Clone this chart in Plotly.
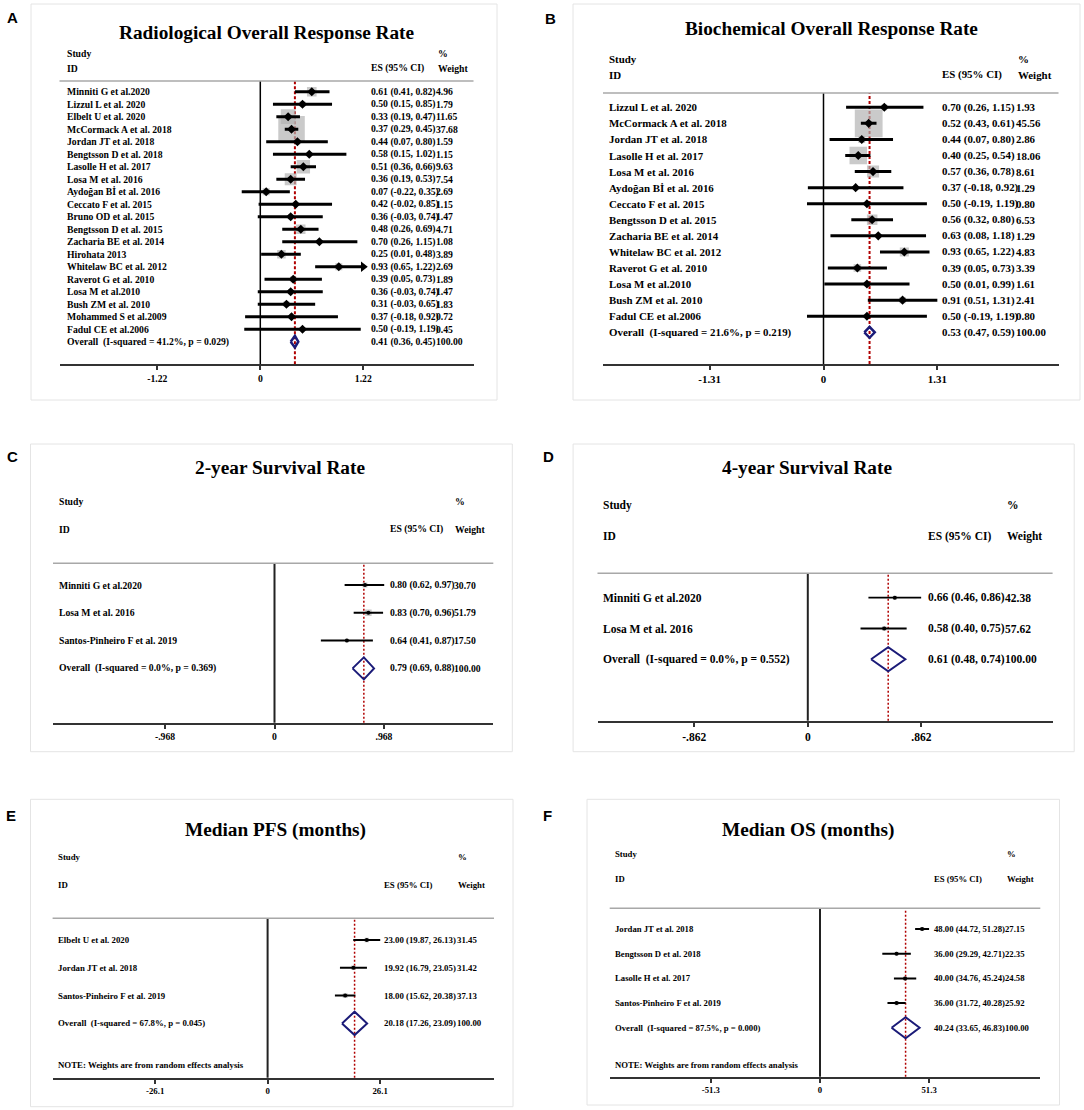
import math
import plotly.graph_objects as go

W, H = 1084, 1110

# ---------------- data ----------------
a_studies = ["Minniti G et al.2020", "Lizzul L et al. 2020", "Elbelt U et al. 2020",
             "McCormack A et al. 2018", "Jordan JT et al. 2018", "Bengtsson D et al. 2018",
             "Lasolle H et al. 2017", "Losa M et al. 2016", "Aydoğan Bİ et al. 2016",
             "Ceccato F et al. 2015", "Bruno OD et al. 2015", "Bengtsson D et al. 2015",
             "Zacharia BE et al. 2014", "Hirohata 2013", "Whitelaw BC et al. 2012",
             "Raverot G et al. 2010", "Losa M et al.2010", "Bush ZM et al. 2010",
             "Mohammed S et al.2009", "Fadul CE et al.2006"]
a_es = [0.61, 0.50, 0.33, 0.37, 0.44, 0.58, 0.51, 0.36, 0.07, 0.42,
        0.36, 0.48, 0.70, 0.25, 0.93, 0.39, 0.36, 0.31, 0.37, 0.50]
a_lo = [0.41, 0.15, 0.19, 0.29, 0.07, 0.15, 0.36, 0.19, -0.22, -0.02,
        -0.03, 0.26, 0.26, 0.01, 0.65, 0.05, -0.03, -0.03, -0.18, -0.19]
a_hi = [0.82, 0.85, 0.47, 0.45, 0.80, 1.02, 0.66, 0.53, 0.35, 0.85,
        0.74, 0.69, 1.15, 0.48, 1.22, 0.73, 0.74, 0.65, 0.92, 1.19]
a_wt = [4.96, 1.79, 11.65, 37.68, 1.59, 1.15, 9.63, 7.54, 2.69, 1.15,
        1.47, 4.71, 1.08, 3.89, 2.69, 1.89, 1.47, 1.83, 0.72, 0.45]
a_overall = [0.41, 0.36, 0.45]
a_i2, a_p = 41.2, 0.029
a_tickvals = [-1.22, 0, 1.22]
a_ticktext = ["-1.22", "0", "1.22"]
a_arrows = ["Whitelaw BC et al. 2012"]

b_studies = ["Lizzul L et al. 2020", "McCormack A et al. 2018", "Jordan JT et al. 2018",
             "Lasolle H et al. 2017", "Losa M et al. 2016", "Aydoğan Bİ et al. 2016",
             "Ceccato F et al. 2015", "Bengtsson D et al. 2015", "Zacharia BE et al. 2014",
             "Whitelaw BC et al. 2012", "Raverot G et al. 2010", "Losa M et al.2010",
             "Bush ZM et al. 2010", "Fadul CE et al.2006"]
b_es = [0.70, 0.52, 0.44, 0.40, 0.57, 0.37, 0.50, 0.56, 0.63, 0.93, 0.39, 0.50, 0.91, 0.50]
b_lo = [0.26, 0.43, 0.07, 0.25, 0.36, -0.18, -0.19, 0.32, 0.08, 0.65, 0.05, 0.01, 0.51, -0.19]
b_hi = [1.15, 0.61, 0.80, 0.54, 0.78, 0.92, 1.19, 0.80, 1.18, 1.22, 0.73, 0.99, 1.31, 1.19]
b_wt = [1.93, 45.56, 2.86, 18.06, 8.61, 1.29, 0.80, 6.53, 1.29, 4.83, 3.39, 1.61, 2.41, 0.80]
b_overall = [0.53, 0.47, 0.59]
b_i2, b_p = 21.6, 0.219
b_tickvals = [-1.31, 0, 1.31]
b_ticktext = ["-1.31", "0", "1.31"]

c_studies = ["Minniti G et al.2020", "Losa M et al. 2016", "Santos-Pinheiro F et al. 2019"]
c_es = [0.80, 0.83, 0.64]
c_lo = [0.62, 0.70, 0.41]
c_hi = [0.97, 0.96, 0.87]
c_wt = [30.70, 51.79, 17.50]
c_overall = [0.79, 0.69, 0.88]
c_i2, c_p = 0.0, 0.369
c_tickvals = [-0.968, 0, 0.968]
c_ticktext = ["-.968", "0", ".968"]

d_studies = ["Minniti G et al.2020", "Losa M et al. 2016"]
d_es = [0.66, 0.58]
d_lo = [0.46, 0.40]
d_hi = [0.86, 0.75]
d_wt = [42.38, 57.62]
d_overall = [0.61, 0.48, 0.74]
d_i2, d_p = 0.0, 0.552
d_tickvals = [-0.862, 0, 0.862]
d_ticktext = ["-.862", "0", ".862"]

e_studies = ["Elbelt U et al. 2020", "Jordan JT et al. 2018", "Santos-Pinheiro F et al. 2019"]
e_es = [23.00, 19.92, 18.00]
e_lo = [19.87, 16.79, 15.62]
e_hi = [26.13, 23.05, 20.38]
e_wt = [31.45, 31.42, 37.13]
e_overall = [20.18, 17.26, 23.09]
e_i2, e_p = 67.8, 0.045
e_tickvals = [-26.1, 0, 26.1]
e_ticktext = ["-26.1", "0", "26.1"]

f_studies = ["Jordan JT et al. 2018", "Bengtsson D et al. 2018", "Lasolle H et al. 2017",
             "Santos-Pinheiro F et al. 2019"]
f_es = [48.00, 36.00, 40.00, 36.00]
f_lo = [44.72, 29.29, 34.76, 31.72]
f_hi = [51.28, 42.71, 45.24, 40.28]
f_wt = [27.15, 22.35, 24.58, 25.92]
f_overall = [40.24, 33.65, 46.83]
f_i2, f_p = 87.5, 0.000
f_tickvals = [-51.3, 0, 51.3]
f_ticktext = ["-51.3", "0", "51.3"]

titles = ["Radiological Overall Response Rate", "Biochemical Overall Response Rate",
          "2-year Survival Rate", "4-year Survival Rate",
          "Median PFS (months)", "Median OS (months)"]
letters = ["A", "B", "C", "D", "E", "F"]
note_text = "NOTE: Weights are from random effects analysis"

# ---------------- layout geometry (pixels) ----------------
geo = [
    dict(border=(31, 4, 497, 400), letter=(12, 17.7), title=(267, 32), study_x=65.8,
         hdr=(54, 68), es_x=369.7, wt_x=435.4, pct_x=436.8, gray_y=81, axis_y=364.3,
         axis_x=(59.5, 473.5), zero=260.3, scale=84.4, row1=91.7, sp=12.5, font=9.7,
         ci_w=3, box_k=4.32, pt=("diamond", 7), dia_h=5.8, dia_w=2.5, zero_w=1.5,
         red_dash="3px,2px", red_w=2, note=False),
    dict(border=(573, 4, 1080, 400), letter=(550, 18), title=(831, 29), study_x=608,
         hdr=(59, 75), es_x=940.5, wt_x=1014.5, pct_x=1017, gray_y=93, axis_y=364,
         axis_x=(603, 1058.5), zero=823.5, scale=86.9, row1=107.3, sp=16.07, font=10.9,
         ci_w=3, box_k=4.12, pt=("diamond", 7), dia_h=5.5, dia_w=2.5, zero_w=1.5,
         red_dash="3px,2px", red_w=2, note=False),
    dict(border=(30.5, 444, 512.3, 751.7), letter=(12, 456), title=(280.4, 467.7), study_x=57.8,
         hdr=(501.7, 529.3), es_x=388.7, wt_x=453.4, pct_x=454, gray_y=563.3, axis_y=722.7,
         axis_x=(53, 493.3), zero=274.5, scale=113.1, row1=585, sp=27.8, font=9.7,
         ci_w=2, box_k=0.9, pt=("circle", 4), dia_h=11, dia_w=2, zero_w=2,
         red_dash="2px,2px", red_w=1.5, note=False),
    dict(border=(573.1, 444, 1074.2, 751.7), letter=(548, 456), title=(806.7, 467.7), study_x=602,
         hdr=(505, 536), es_x=927, wt_x=1004.4, pct_x=1005.5, gray_y=573.3, axis_y=720.7,
         axis_x=(597.5, 1052.6), zero=807.8, scale=131.8, row1=597.7, sp=30.8, font=11.5,
         ci_w=1.8, box_k=0.6, pt=("circle", 4), dia_h=12, dia_w=2, zero_w=2,
         red_dash="2px,2px", red_w=1.5, note=False),
    dict(border=(30.5, 799.3, 513, 1106.7), letter=(11.4, 815), title=(275.2, 830), study_x=57.1,
         hdr=(857.3, 885), es_x=383.2, wt_x=456.2, pct_x=456.9, gray_y=918.3, axis_y=1077.7,
         axis_x=(52.6, 494), zero=267.6, scale=4.31, row1=940, sp=27.8, font=8.8,
         ci_w=2, box_k=0.8, pt=("circle", 4), dia_h=11.7, dia_w=2, zero_w=2,
         red_dash="2px,2px", red_w=1.5, note=True),
    dict(border=(587, 799.3, 1059.5, 1105), letter=(547, 815), title=(807.8, 830), study_x=613.9,
         hdr=(854.3, 879), es_x=933, wt_x=1004.4, pct_x=1005.5, gray_y=908.3, axis_y=1076.7,
         axis_x=(609.7, 1040.3), zero=820, scale=2.127, row1=929, sp=24.7, font=8.7,
         ci_w=2, box_k=0.8, pt=("circle", 4), dia_h=10.5, dia_w=2, zero_w=2,
         red_dash="2px,2px", red_w=1.5, note=True),
]

datasets = [
    (a_studies, a_es, a_lo, a_hi, a_wt, a_overall, a_i2, a_p, a_tickvals, a_ticktext),
    (b_studies, b_es, b_lo, b_hi, b_wt, b_overall, b_i2, b_p, b_tickvals, b_ticktext),
    (c_studies, c_es, c_lo, c_hi, c_wt, c_overall, c_i2, c_p, c_tickvals, c_ticktext),
    (d_studies, d_es, d_lo, d_hi, d_wt, d_overall, d_i2, d_p, d_tickvals, d_ticktext),
    (e_studies, e_es, e_lo, e_hi, e_wt, e_overall, e_i2, e_p, e_tickvals, e_ticktext),
    (f_studies, f_es, f_lo, f_hi, f_wt, f_overall, f_i2, f_p, f_tickvals, f_ticktext),
]

SERIF = "Liberation Serif, Times New Roman, serif"
SANS = "Liberation Sans, Arial, sans-serif"
NAVY = "#1b1b78"
RED = "#b00000"


def px(x):
    return x / W


def py(y):
    return 1 - y / H


fig = go.Figure()
annotations = []
shapes = []
layout_axes = {}

for i, (g, d) in enumerate(zip(geo, datasets), start=1):
    studies, es, lo, hi, wt, overall, i2, pval, tickvals, ticktext = d
    xn = "x" if i == 1 else f"x{i}"
    yn = "y" if i == 1 else f"y{i}"
    xk = "xaxis" if i == 1 else f"xaxis{i}"
    yk = "yaxis" if i == 1 else f"yaxis{i}"
    n = len(studies)
    rows = list(range(1, n + 1))
    r_over = n + 1

    r_top = 1 + (g["gray_y"] - g["row1"]) / g["sp"]
    r_bot = 1 + (g["axis_y"] - g["row1"]) / g["sp"]
    x0 = (g["axis_x"][0] - g["zero"]) / g["scale"]
    x1 = (g["axis_x"][1] - g["zero"]) / g["scale"]

    layout_axes[xk] = dict(
        domain=[px(g["axis_x"][0]), px(g["axis_x"][1])], range=[x0, x1],
        anchor=yn, showgrid=False, zeroline=False, showline=True,
        linecolor="#333333", linewidth=2, ticks="outside", ticklen=4, tickwidth=1.5,
        tickcolor="#333333", tickvals=tickvals, ticktext=ticktext,
        tickfont=dict(family=SERIF, size=g["font"], color="black", weight="bold"),
        fixedrange=True)
    layout_axes[yk] = dict(
        domain=[py(g["axis_y"]), py(g["gray_y"])], range=[r_bot, r_top],
        anchor=xn, visible=False, fixedrange=True)

    # weight boxes
    fig.add_trace(go.Scatter(
        x=es, y=rows, xaxis=xn, yaxis=yn, mode="markers", hoverinfo="skip",
        marker=dict(symbol="square", size=[g["box_k"] * math.sqrt(w) for w in wt],
                    color="#b4b4b4", line=dict(width=0))))
    # CI lines
    cx, cy = [], []
    for l, h, r in zip(lo, hi, rows):
        cx += [l, h, None]
        cy += [r, r, None]
    fig.add_trace(go.Scatter(x=cx, y=cy, xaxis=xn, yaxis=yn, mode="lines",
                             line=dict(color="black", width=g["ci_w"]), hoverinfo="skip"))
    # point estimates
    fig.add_trace(go.Scatter(
        x=es, y=rows, xaxis=xn, yaxis=yn, mode="markers", hoverinfo="skip",
        marker=dict(symbol=g["pt"][0], size=g["pt"][1], color="black", line=dict(width=0))))
    # arrows for CIs reaching past the plotted limit
    if i == 1:
        ax_ = [h for s, h in zip(studies, hi) if s in a_arrows]
        ay_ = [r for s, r in zip(studies, rows) if s in a_arrows]
        fig.add_trace(go.Scatter(
            x=ax_, y=ay_, xaxis=xn, yaxis=yn, mode="markers", hoverinfo="skip",
            marker=dict(symbol="triangle-right", size=9, color="black", line=dict(width=0))))
    # overall diamond
    hh = g["dia_h"] / g["sp"]
    fig.add_trace(go.Scatter(
        x=[overall[1], overall[0], overall[2], overall[0], overall[1]],
        y=[r_over, r_over - hh, r_over, r_over + hh, r_over],
        xaxis=xn, yaxis=yn, mode="lines", hoverinfo="skip",
        line=dict(color=NAVY, width=g["dia_w"])))

    # shapes
    bx0, by0, bx1, by1 = g["border"]
    shapes.append(dict(type="rect", xref="paper", yref="paper", x0=px(bx0), x1=px(bx1),
                       y0=py(by0), y1=py(by1), line=dict(color="#e4e4e4", width=1), layer="below"))
    shapes.append(dict(type="line", xref="paper", yref="paper",
                       x0=px(g["axis_x"][0]), x1=px(g["axis_x"][1]),
                       y0=py(g["gray_y"]), y1=py(g["gray_y"]),
                       line=dict(color="#a8a8a8", width=1.5)))
    shapes.append(dict(type="line", xref=xn, yref="paper", x0=0, x1=0,
                       y0=py(g["axis_y"]), y1=py(g["gray_y"]),
                       line=dict(color="#222222" if i > 2 else "black", width=g["zero_w"]),
                       layer="below"))
    shapes.append(dict(type="line", xref=xn, yref="paper", x0=overall[0], x1=overall[0],
                       y0=py(g["axis_y"]), y1=py(g["gray_y"]),
                       line=dict(color=RED, width=g["red_w"], dash=g["red_dash"]),
                       layer="below"))

    f_ = dict(family=SERIF, size=g["font"], color="black", weight="bold")

    def ann(text, x, y, yref="paper", xanchor="left", font=f_):
        annotations.append(dict(text=text, x=x, y=y, xref="paper", yref=yref,
                                xanchor=xanchor, yanchor="middle", showarrow=False,
                                font=font, borderpad=0))

    # panel letter and title
    ann(letters[i - 1], px(g["letter"][0]), py(g["letter"][1]), xanchor="center",
        font=dict(family=SANS, size=15, color="black", weight="bold"))
    ann(titles[i - 1], px(g["title"][0]), py(g["title"][1]), xanchor="center",
        font=dict(family=SERIF, size=19.3, color="black", weight="bold"))
    # headers
    ann("Study", px(g["study_x"]), py(g["hdr"][0]))
    ann("ID", px(g["study_x"]), py(g["hdr"][1]))
    ann("ES (95% CI)", px(g["es_x"]), py(g["hdr"][1]))
    ann("%", px(g["pct_x"]), py(g["hdr"][0]))
    ann("Weight", px(g["pct_x"]), py(g["hdr"][1]))

    fmt = "{:.2f}"
    for s, e_, l, h, w, r in zip(studies, es, lo, hi, wt, rows):
        ann(s, px(g["study_x"]), r, yref=yn)
        ann(f"{fmt.format(e_)} ({fmt.format(l)}, {fmt.format(h)})", px(g["es_x"]), r, yref=yn)
        ann(f"{w:.2f}", px(g["wt_x"]), r, yref=yn)
    ann(f"Overall\u00a0 (I-squared = {i2:.1f}%, p = {pval:.3f})", px(g["study_x"]), r_over, yref=yn)
    ann(f"{fmt.format(overall[0])} ({fmt.format(overall[1])}, {fmt.format(overall[2])})",
        px(g["es_x"]), r_over, yref=yn)
    ann("100.00", px(g["wt_x"]), r_over, yref=yn)
    if g["note"]:
        ann(note_text, px(g["study_x"]), r_over + 1.5, yref=yn)

fig.update_layout(
    width=W, height=H, margin=dict(l=0, r=0, t=0, b=0),
    paper_bgcolor="white", plot_bgcolor="rgba(0,0,0,0)", showlegend=False,
    annotations=annotations, shapes=shapes, **layout_axes)

fig.write_html("out.html", config={"displayModeBar": False},
               post_script="document.body.style.margin='0px';document.body.style.overflow='hidden';")
